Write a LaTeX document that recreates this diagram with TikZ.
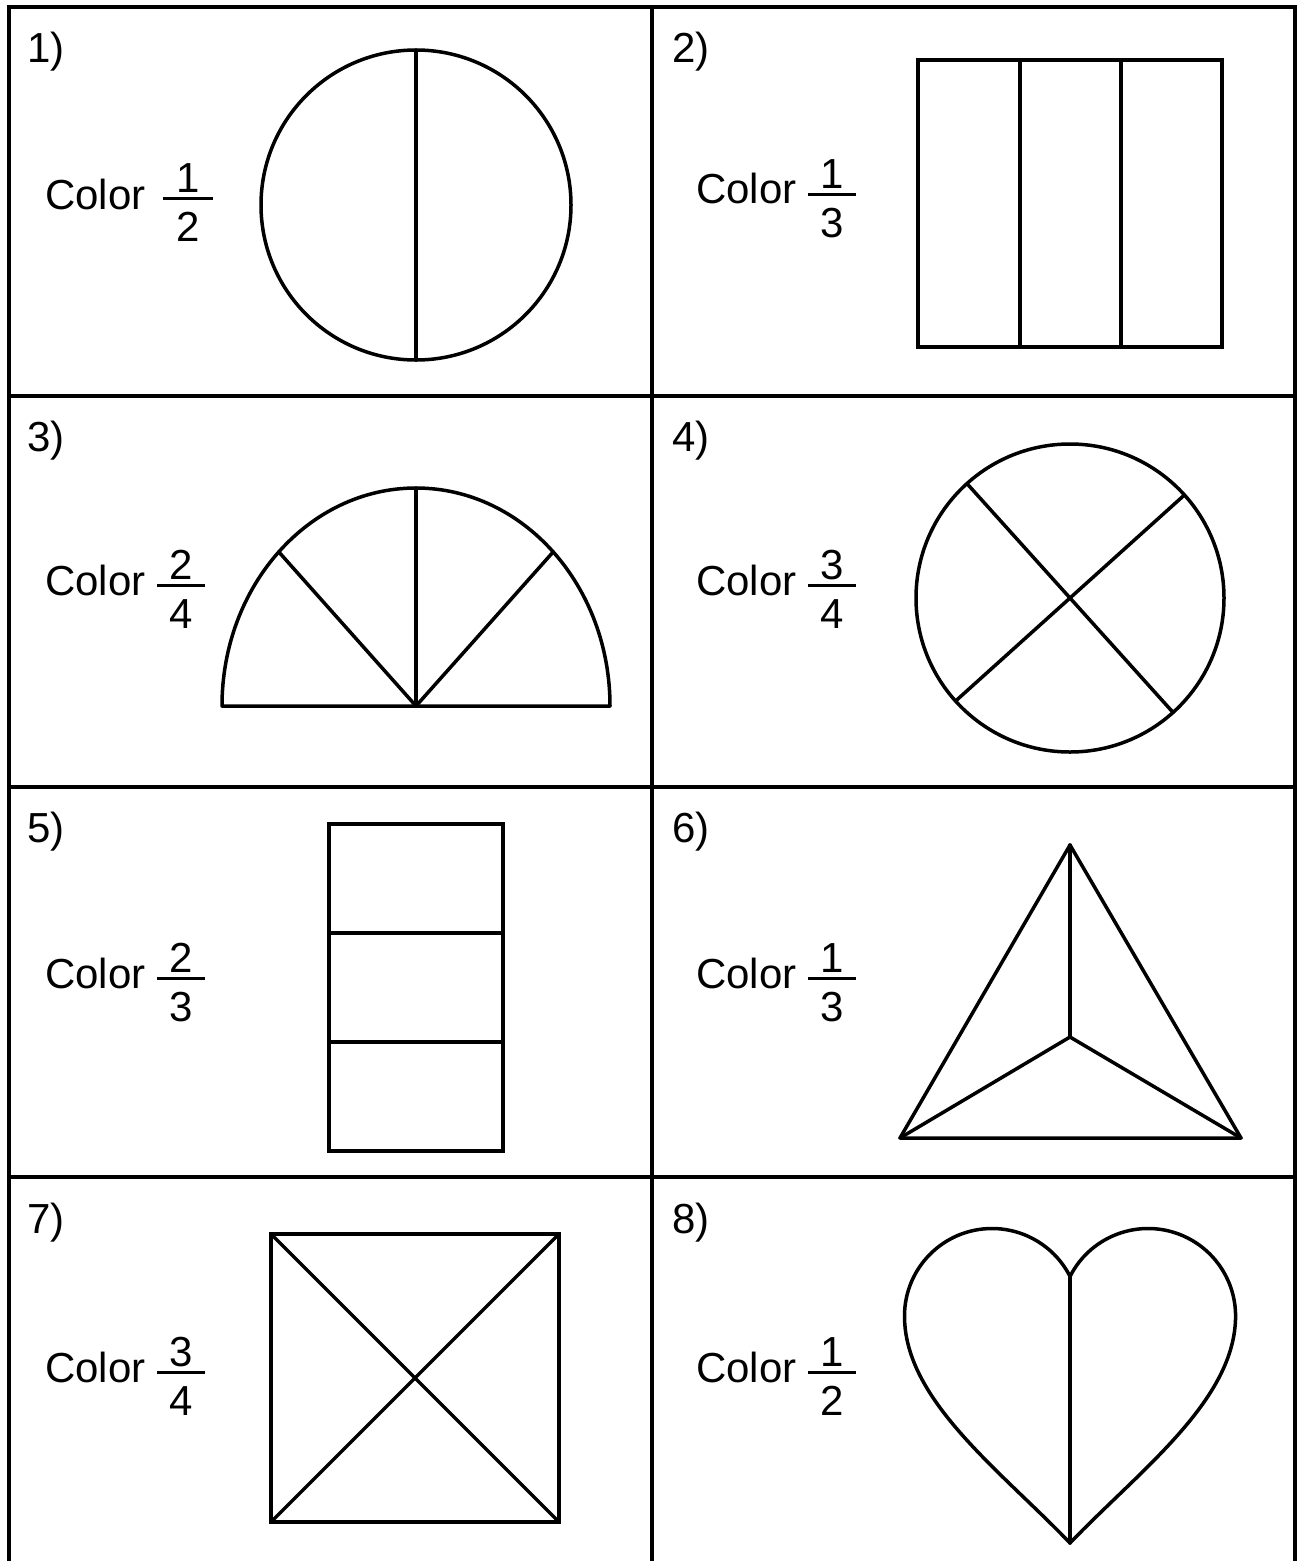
\documentclass[tikz,border=0pt]{standalone}
\usepackage{fontspec}
\setmainfont{Liberation Sans}
\usetikzlibrary{calc}
\begin{document}
\begin{tikzpicture}[x=1pt,y=-1pt,
  gridline/.style={line width=4pt,line cap=rect},
  figline/.style={line width=3.5pt,line join=round,line cap=round},
  fbar/.style={line width=3pt},
  lbl/.style={inner sep=0pt,anchor=base west,font=\fontsize{42}{46}\selectfont},
  word/.style={inner sep=0pt,anchor=base west,font=\fontsize{42}{46}\selectfont},
  digit/.style={inner sep=0pt,anchor=base,font=\fontsize{42}{46}\selectfont}]
\useasboundingbox (0,0) rectangle (1297,1561);
\fill[white] (0,0) rectangle (1297,1561);
% grid
\coordinate (gTL) at (8.5,7);
\coordinate (gTR) at (1295,7);
\coordinate (gBL) at (8.5,1575);
\coordinate (gBR) at (1295,1575);
\coordinate (gTM) at (652,7);
\coordinate (gBM) at (652,1575);
\draw[gridline] (gBL) -- (gTL) -- (gTR) -- (gBR);
\draw[gridline] (gTM) -- (gBM);
\coordinate (h1l) at (8.5,396); \coordinate (h1r) at (1295,396);
\coordinate (h2l) at (8.5,787); \coordinate (h2r) at (1295,787);
\coordinate (h3l) at (8.5,1177); \coordinate (h3r) at (1295,1177);
\draw[gridline] (h1l) -- (h1r);
\draw[gridline] (h2l) -- (h2r);
\draw[gridline] (h3l) -- (h3r);
% labels
\node[lbl] (l1) at (27,62) {1)};
\node[lbl] (l2) at (672,62) {2)};
\node[lbl] (l3) at (27,451) {3)};
\node[lbl] (l4) at (672,451) {4)};
\node[lbl] (l5) at (27,842) {5)};
\node[lbl] (l6) at (672,842) {6)};
\node[lbl] (l7) at (27,1233) {7)};
\node[lbl] (l8) at (672,1233) {8)};
% Color words
\node[word] (c1) at (45,209) {Color};
\node[word] (c2) at (696,203) {Color};
\node[word] (c3) at (45,595) {Color};
\node[word] (c4) at (696,595) {Color};
\node[word] (c5) at (45,988) {Color};
\node[word] (c6) at (696,988) {Color};
\node[word] (c7) at (45,1382) {Color};
\node[word] (c8) at (696,1382) {Color};
% fractions
\node[digit] (n1) at (188,192) {1}; \node[digit] (d1) at (188,241) {2};
\coordinate (b1a) at (163,198); \coordinate (b1b) at (213,198); \draw[fbar] (b1a) -- (b1b);
\node[digit] (n2) at (832,188) {1}; \node[digit] (d2) at (832,237) {3};
\coordinate (b2a) at (808,194); \coordinate (b2b) at (856,194); \draw[fbar] (b2a) -- (b2b);
\node[digit] (n3) at (181,579) {2}; \node[digit] (d3) at (181,628) {4};
\coordinate (b3a) at (157,585); \coordinate (b3b) at (205,585); \draw[fbar] (b3a) -- (b3b);
\node[digit] (n4) at (832,579) {3}; \node[digit] (d4) at (832,628) {4};
\coordinate (b4a) at (808,585); \coordinate (b4b) at (856,585); \draw[fbar] (b4a) -- (b4b);
\node[digit] (n5) at (181,972) {2}; \node[digit] (d5) at (181,1021) {3};
\coordinate (b5a) at (157,978); \coordinate (b5b) at (205,978); \draw[fbar] (b5a) -- (b5b);
\node[digit] (n6) at (832,972) {1}; \node[digit] (d6) at (832,1021) {3};
\coordinate (b6a) at (808,978); \coordinate (b6b) at (856,978); \draw[fbar] (b6a) -- (b6b);
\node[digit] (n7) at (181,1366) {3}; \node[digit] (d7) at (181,1415) {4};
\coordinate (b7a) at (157,1372); \coordinate (b7b) at (205,1372); \draw[fbar] (b7a) -- (b7b);
\node[digit] (n8) at (832,1366) {1}; \node[digit] (d8) at (832,1415) {2};
\coordinate (b8a) at (808,1372); \coordinate (b8b) at (856,1372); \draw[fbar] (b8a) -- (b8b);
% 1) circle halves
\coordinate (o1) at (416,205);
\draw[figline] (o1) circle[radius=155pt];
\coordinate (o1t) at (416,50); \coordinate (o1b) at (416,360);
\draw[figline] (o1t) -- (o1b);
% 2) rectangle in thirds
\coordinate (r2a) at (918,60); \coordinate (r2b) at (1222,347);
\draw[figline,line join=miter] (r2a) rectangle (r2b);
\coordinate (r2tl) at (918,60); \coordinate (r2tr) at (1222,60);
\coordinate (r2bl) at (918,347); \coordinate (r2br) at (1222,347);
\draw[line width=4.5pt] (r2tl) -- (r2tr);
\draw[line width=4.5pt] (r2bl) -- (r2br);
\coordinate (r2t1) at (1020,60); \coordinate (r2b1) at (1020,347);
\coordinate (r2t2) at (1121,60); \coordinate (r2b2) at (1121,347);
\draw[figline] (r2t1) -- (r2b1);
\draw[figline] (r2t2) -- (r2b2);
% 3) semi-ellipse in quarters
\coordinate (o3) at (416,706);
\coordinate (o3l) at (222,706);
\draw[figline] (o3l) arc[start angle=180,end angle=0,x radius=194pt,y radius=218pt] -- cycle;
\coordinate (o3t) at (416,488);
\coordinate (o3p) at (278.8,551.9);
\coordinate (o3q) at (553.2,551.9);
\draw[figline] (o3) -- (o3t);
\draw[figline] (o3) -- (o3p);
\draw[figline] (o3) -- (o3q);
% 4) circle in quarters
\coordinate (o4) at (1070,598);
\draw[figline] (o4) circle[radius=154pt];
\draw[figline] ($(o4)+(132:154pt)$) -- ($(o4)+(-48:154pt)$);
\draw[figline] ($(o4)+(42:154pt)$) -- ($(o4)+(222:154pt)$);
% 5) rectangle in thirds
\coordinate (r5a) at (329,824); \coordinate (r5b) at (503,1151);
\draw[figline,line join=miter] (r5a) rectangle (r5b);
\coordinate (r5l1) at (329,933); \coordinate (r5r1) at (503,933);
\coordinate (r5l2) at (329,1042); \coordinate (r5r2) at (503,1042);
\draw[figline] (r5l1) -- (r5r1);
\draw[figline] (r5l2) -- (r5r2);
% 6) triangle in thirds
\coordinate (t6a) at (1070,845);
\coordinate (t6b) at (900,1138);
\coordinate (t6c) at (1241,1138);
\coordinate (t6o) at (1070,1037);
\draw[figline] (t6a) -- (t6b) -- (t6c) -- cycle;
\draw[figline] (t6a) -- (t6o);
\draw[figline] (t6b) -- (t6o) -- (t6c);
% 7) square with diagonals
\coordinate (s7a) at (271,1234); \coordinate (s7b) at (559,1234);
\coordinate (s7c) at (559,1522); \coordinate (s7d) at (271,1522);
\draw[figline,line join=miter] (s7a) -- (s7b) -- (s7c) -- (s7d) -- cycle;
\draw[figline] (s7a) -- (s7c);
\draw[figline] (s7b) -- (s7d);
% 8) heart in halves
\coordinate (h8tip) at (1070,1543);
\coordinate (h8cusp) at (1070,1276.4);
\coordinate (h8l) at (904.5,1316);
\coordinate (h8r) at (1235.5,1316);
\draw[figline] (h8tip) .. controls (1000,1470) and (904.5,1400) .. (h8l)
  arc[start angle=180,end angle=26.9,radius=87.5pt]
  arc[start angle=153.1,end angle=0,radius=87.5pt]
  .. controls (1235.5,1400) and (1140,1470) .. (h8tip) -- cycle;
\draw[figline] (h8cusp) -- (h8tip);
\end{tikzpicture}
\end{document}
